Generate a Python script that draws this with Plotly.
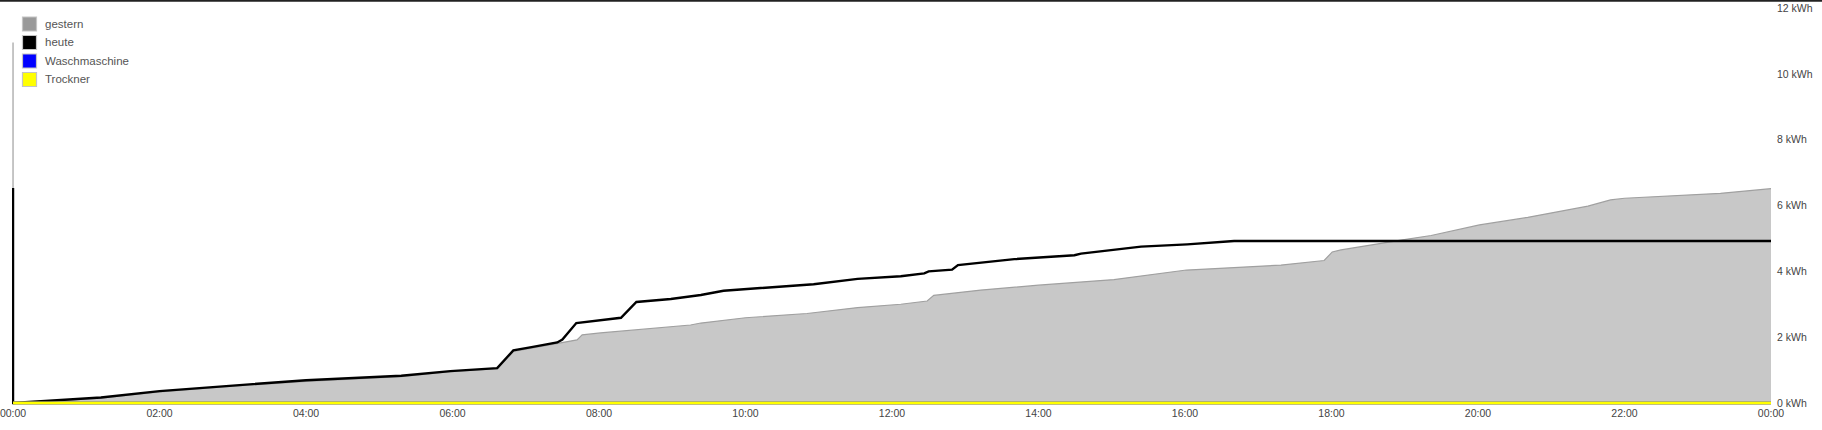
import plotly.graph_objects as go

# ---------------- data ----------------
tick_hours = [0, 2, 4, 6, 8, 10, 12, 14, 16, 18, 20, 22, 24]
tick_labels = ["00:00", "02:00", "04:00", "06:00", "08:00", "10:00", "12:00",
               "14:00", "16:00", "18:00", "20:00", "22:00", "00:00"]
grid_hours = [2, 4, 6, 8, 10, 12, 14, 16, 18, 20, 22]

kwh_ticks = [0, 2, 4, 6, 8, 10, 12]
kwh_labels = ["0 kWh", "2 kWh", "4 kWh", "6 kWh", "8 kWh", "10 kWh", "12 kWh"]
kwh_grid = [2, 4, 6, 8, 10]

series_names = ["gestern", "heute", "Waschmaschine", "Trockner"]
series_colors = ["#999999", "#000000", "#0000ff", "#ffff00"]

gestern_h = [0, 0, 1.2, 2.0, 3.0, 4.0, 5.3, 5.97, 6.61, 6.83, 7.06, 7.45, 7.70, 7.77,
             8.02, 9.25, 9.39, 10.0, 10.84, 11.53, 12.12, 12.48, 12.57, 13.21, 14.0,
             15.03, 16.02, 17.31, 17.90, 18.01, 18.13, 18.95, 19.36, 20.02, 20.68,
             21.50, 21.81, 22.0, 23.31, 24.0]
gestern_kwh = [10.95, 0, 0.15, 0.34, 0.51, 0.66, 0.80, 0.95, 1.04, 1.57, 1.66, 1.81,
               1.92, 2.07, 2.13, 2.37, 2.43, 2.59, 2.72, 2.90, 3.00, 3.10, 3.27, 3.43,
               3.58, 3.75, 4.04, 4.19, 4.33, 4.59, 4.65, 4.95, 5.09, 5.41, 5.64, 5.98,
               6.17, 6.22, 6.37, 6.51]

heute_h = [0, 0, 1.2, 2.0, 3.0, 4.0, 5.3, 5.97, 6.61, 6.83, 7.06, 7.43, 7.50, 7.69,
           8.30, 8.51, 8.98, 9.39, 9.70, 10.39, 10.93, 11.53, 12.12, 12.44, 12.50,
           12.82, 12.90, 13.67, 14.49, 14.58, 15.40, 16.03, 16.67, 24.0]
heute_kwh = [6.53, 0, 0.17, 0.36, 0.53, 0.69, 0.83, 0.97, 1.06, 1.60, 1.69, 1.84,
             1.93, 2.43, 2.59, 3.07, 3.16, 3.28, 3.41, 3.51, 3.61, 3.77, 3.85, 3.94,
             4.00, 4.05, 4.19, 4.37, 4.49, 4.54, 4.75, 4.82, 4.92, 4.92]

wasch_h = [0, 24]
wasch_kwh = [0, 0]
trockner_h = [0, 24]
trockner_kwh = [0, 0]

# ---------------- figure ----------------
W, H = 1822, 430
ML, MR, MT, MB = 12, 51, 8, 25
PW, PH = W - ML - MR, H - MT - MB
FONT = "Liberation Sans, Arial, sans-serif"


def px_x(p):
    return (p - ML) / PW


def px_y(p):
    return 1 - (p - MT) / PH


fig = go.Figure()

fig.add_trace(go.Scatter(x=gestern_h, y=gestern_kwh, mode="lines", fill="tozeroy",
                         name=series_names[0],
                         fillcolor="rgba(128,128,128,0.43)",
                         line=dict(color="#a0a0a0", width=1.2),
                         showlegend=False, hoverinfo="skip"))
fig.add_trace(go.Scatter(x=heute_h, y=heute_kwh, mode="lines", name=series_names[1],
                         line=dict(color=series_colors[1], width=2.4),
                         showlegend=False, hoverinfo="skip"))
fig.add_trace(go.Scatter(x=wasch_h, y=wasch_kwh, mode="lines", name=series_names[2],
                         line=dict(color=series_colors[2], width=3),
                         showlegend=False, hoverinfo="skip"))
fig.add_trace(go.Scatter(x=trockner_h, y=trockner_kwh, mode="lines", name=series_names[3],
                         line=dict(color=series_colors[3], width=3),
                         showlegend=False, hoverinfo="skip"))

xr = [-0.014, 24]
yr = [-0.06, 12]

# top border line + legend box (drawn as shapes/annotations)
shapes = [dict(type="line", xref="paper", yref="paper",
               x0=px_x(0), x1=px_x(W), y0=px_y(0.8), y1=px_y(0.8),
               line=dict(color="#222222", width=2))]
shapes.append(dict(type="rect", xref="paper", yref="paper", layer="above",
                   x0=px_x(14), x1=px_x(133), y0=px_y(13), y1=px_y(89),
                   fillcolor="rgba(255,255,255,0.8)", line=dict(width=0)))
annotations = []
row_y = [24, 42.5, 61, 79.5]
for name, col, ry in zip(series_names, series_colors, row_y):
    shapes.append(dict(type="rect", xref="paper", yref="paper", layer="above",
                       x0=px_x(22.5), x1=px_x(36.5), y0=px_y(ry - 7), y1=px_y(ry + 7),
                       fillcolor=col, line=dict(color="#c4c4c4", width=1.2)))
    annotations.append(dict(text=name, xref="paper", yref="paper",
                            x=px_x(42.5), y=px_y(ry), xanchor="left", yanchor="middle",
                            showarrow=False,
                            font=dict(family=FONT, size=11.5, color="#555555")))

fig.update_layout(
    width=W, height=H,
    margin=dict(l=ML, r=MR, t=MT, b=MB, pad=0, autoexpand=False),
    paper_bgcolor="white", plot_bgcolor="white",
    font=dict(family=FONT, size=10.5, color="#444444"),
    showlegend=False,
    xaxis=dict(range=xr, tickmode="array", tickvals=tick_hours, ticktext=tick_labels,
               showgrid=False, zeroline=False, showline=False, ticks="",
               ticklabeloverflow="allow",
               tickfont=dict(size=10.5, color="#444444"), fixedrange=True),
    yaxis=dict(range=yr, side="right", tickmode="array", tickvals=kwh_ticks,
               ticktext=kwh_labels, showgrid=False, zeroline=False, showline=False,
               ticks="", ticklabelstandoff=5, ticklabeloverflow="allow",
               tickfont=dict(size=10.5, color="#444444"), fixedrange=True),
    xaxis2=dict(range=xr, overlaying="x", anchor="y2", tickmode="array",
                tickvals=grid_hours, showticklabels=False, showgrid=True,
                gridcolor="#cfcfcf", gridwidth=1, zeroline=False, ticks=""),
    yaxis2=dict(range=yr, overlaying="y", anchor="x2", side="right", tickmode="array",
                tickvals=kwh_grid, showticklabels=False, showgrid=True,
                gridcolor="#cfcfcf", gridwidth=1, zeroline=False, ticks=""),
    shapes=shapes,
    annotations=annotations,
)

fig.write_html("out.html", config={"displayModeBar": False},
               post_script="document.body.style.margin='0';")
